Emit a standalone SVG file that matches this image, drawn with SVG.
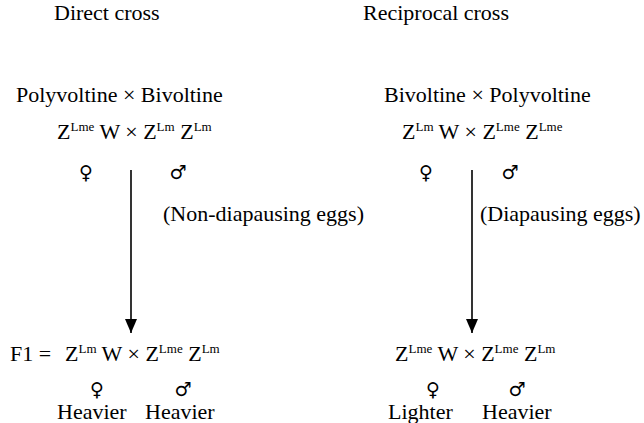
<svg xmlns="http://www.w3.org/2000/svg" width="644" height="423" viewBox="0 0 644 423">
<defs>
<style>
.t{font-family:"Liberation Serif","Times New Roman",serif;font-size:22px;fill:#000}
.sup{font-size:13px}
.sym{font-family:"DejaVu Sans",sans-serif;font-size:19px;text-anchor:middle;fill:#000}
.conn line{stroke:#000;stroke-width:1.6}
</style>
<marker id="ah" viewBox="0 0 14 12" refX="14" refY="6" markerWidth="14" markerHeight="12" markerUnits="userSpaceOnUse" orient="auto">
<path d="M0,0 L14,6 L0,12 Z" fill="#000"/>
</marker>
</defs>
<g id="titles" class="t" font-family="Liberation Serif, Times New Roman, serif">
<text x="54" y="20">Direct cross</text>
<text x="363" y="20">Reciprocal cross</text>
</g>
<g id="parents-direct" font-family="Liberation Serif, Times New Roman, serif">
<text class="t" x="16" y="102">Polyvoltine × Bivoltine</text>
<text class="t" x="57" y="139">Z<tspan class="sup" dy="-8">Lme</tspan><tspan dy="8"> W × Z</tspan><tspan class="sup" dy="-8">Lm</tspan><tspan dy="8"> Z</tspan><tspan class="sup" dy="-8">Lm</tspan></text>
<text class="sym" x="86" y="179">♀</text>
<text class="sym" x="178" y="179">♂</text>
</g>
<g id="parents-reciprocal" font-family="Liberation Serif, Times New Roman, serif">
<text class="t" x="384" y="102">Bivoltine × Polyvoltine</text>
<text class="t" x="402" y="139">Z<tspan class="sup" dy="-8">Lm</tspan><tspan dy="8"> W × Z</tspan><tspan class="sup" dy="-8">Lme</tspan><tspan dy="8"> Z</tspan><tspan class="sup" dy="-8">Lme</tspan></text>
<text class="sym" x="426" y="179">♀</text>
<text class="sym" x="510" y="179">♂</text>
</g>
<g id="label-direct" font-family="Liberation Serif, Times New Roman, serif"><text class="t" x="163" y="221">(Non-diapausing eggs)</text></g>
<g id="label-reciprocal" font-family="Liberation Serif, Times New Roman, serif"><text class="t" x="480" y="221">(Diapausing eggs)</text></g>
<g id="connectors" class="conn">
<line x1="131" y1="170" x2="131" y2="333" marker-end="url(#ah)"/>
<line x1="472" y1="170" x2="472" y2="333" marker-end="url(#ah)"/>
</g>
<g id="f1-direct" font-family="Liberation Serif, Times New Roman, serif">
<text class="t" x="10" y="361">F1 =</text>
<text class="t" x="65" y="361">Z<tspan class="sup" dy="-8">Lm</tspan><tspan dy="8"> W × Z</tspan><tspan class="sup" dy="-8">Lme</tspan><tspan dy="8"> Z</tspan><tspan class="sup" dy="-8">Lm</tspan></text>
<text class="sym" x="97" y="396">♀</text>
<text class="sym" x="183" y="396">♂</text>
<text class="t" x="57" y="419">Heavier</text>
<text class="t" x="145" y="419">Heavier</text>
</g>
<g id="f1-reciprocal" font-family="Liberation Serif, Times New Roman, serif">
<text class="t" x="395" y="361">Z<tspan class="sup" dy="-8">Lme</tspan><tspan dy="8"> W × Z</tspan><tspan class="sup" dy="-8">Lme</tspan><tspan dy="8"> Z</tspan><tspan class="sup" dy="-8">Lm</tspan></text>
<text class="sym" x="433" y="396">♀</text>
<text class="sym" x="517" y="396">♂</text>
<text class="t" x="388" y="419">Lighter</text>
<text class="t" x="482" y="419">Heavier</text>
</g>
</svg>
